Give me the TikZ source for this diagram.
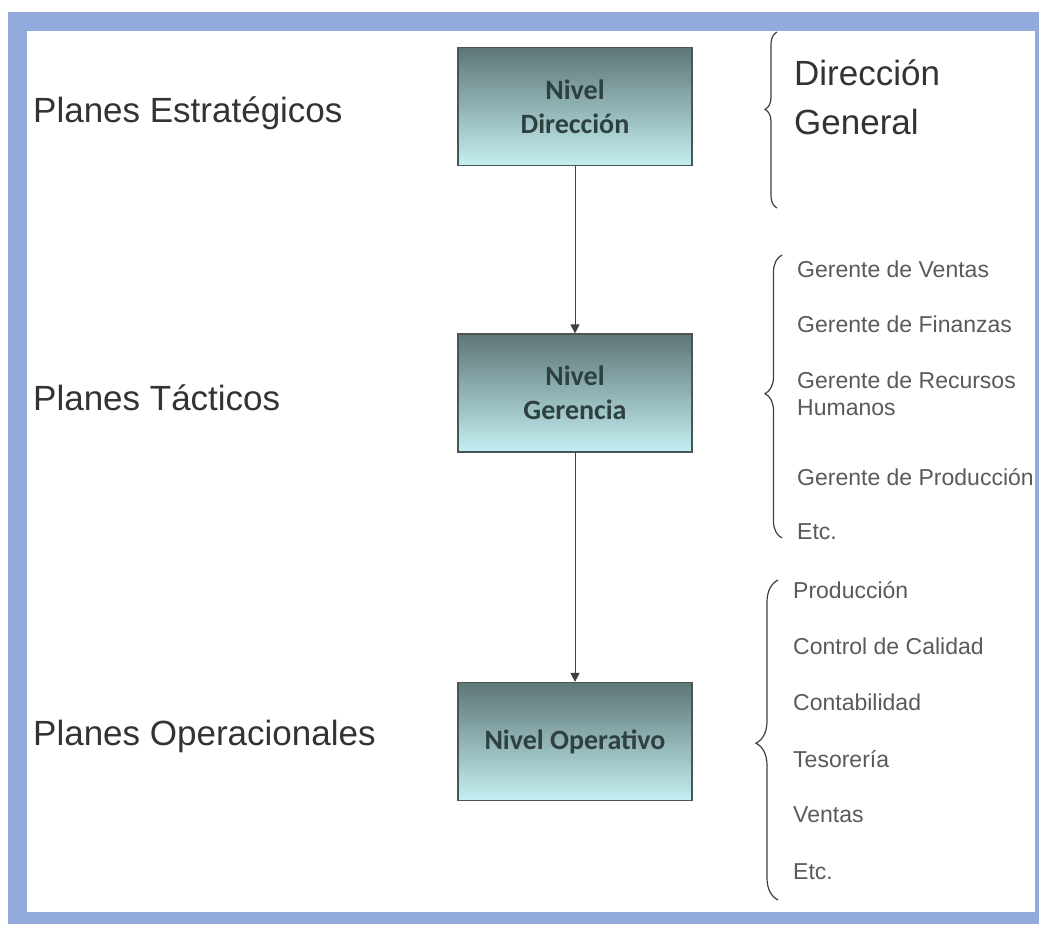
\documentclass[tikz,border=0pt]{standalone}
\usepackage{fontspec}
\setmainfont{Liberation Sans}
\newfontfamily\boxfont{Carlito}
\usetikzlibrary{decorations.pathreplacing,arrows.meta}
\definecolor{framebl}{HTML}{92AADC}
\definecolor{boxtop}{HTML}{5E7676}
\definecolor{boxbot}{HTML}{C4EFF2}
\definecolor{boxline}{HTML}{4A5656}
\definecolor{boxtext}{HTML}{2E4040}
\definecolor{labtext}{HTML}{333333}
\definecolor{itemtext}{HTML}{5A5A5A}
\begin{document}
\begin{tikzpicture}[x=1pt,y=-1pt,
  level/.style={draw=boxline,line width=1.2pt,top color=boxtop,bottom color=boxbot,
    minimum width=234pt,minimum height=118pt,inner sep=0pt,align=center,
    font=\boxfont\bfseries\fontsize{28}{34}\selectfont,text=boxtext},
  plan/.style={anchor=base west,inner sep=0pt,text=labtext,font=\fontsize{35}{40}\selectfont},
  item/.style={anchor=base west,inner sep=0pt,text=itemtext,font=\fontsize{23}{27}\selectfont},
  big/.style={anchor=base west,inner sep=0pt,text=labtext,font=\fontsize{35}{40}\selectfont},
  conn/.style={draw=black!75,line width=1pt,-{Triangle[width=9pt,length=9pt]}},
  brc/.style={draw=black!75,line width=1.2pt,decorate},
]
\useasboundingbox (0,0) rectangle (1039,924);
\fill[framebl] (8,12) rectangle (1039,924);
\fill[white] (27,31) rectangle (1035,912);

% boxes
\node[level] (dir) at (575,106.5) {Nivel\\Dirección};
\node[level] (ger) at (575,393) {Nivel\\Gerencia};
\node[level] (ope) at (575,741.5) {Nivel Operativo};
\draw[conn] (dir.south) -- (ger.north);
\draw[conn] (ger.south) -- (ope.north);

% left labels
\node[plan] (pe) at (33,122) {Planes Estratégicos};
\node[plan] (pt) at (33,410) {Planes Tácticos};
\node[plan] (po) at (33,745) {Planes Operacionales};

% braces
\coordinate (b1t) at (777,32);
\coordinate (b1b) at (777,208);
\coordinate (b2t) at (782,255);
\coordinate (b2b) at (782,538);
\coordinate (b3t) at (778,580);
\coordinate (b3b) at (778,900);
\draw[brc,decoration={brace,amplitude=12pt,aspect=0.56}] (b1b) -- (b1t);
\draw[brc,decoration={brace,amplitude=17pt,aspect=0.51}] (b2b) -- (b2t);
\draw[brc,decoration={brace,amplitude=22pt,aspect=0.49}] (b3b) -- (b3t);

% right texts
\node[big] (dg1) at (794,85) {Dirección};
\node[big] (dg2) at (794,134) {General};

\node[item] (g1) at (797,277) {Gerente de Ventas};
\node[item] (g2) at (797,332) {Gerente de Finanzas};
\node[item] (g3) at (797,388) {Gerente de Recursos};
\node[item] (g4) at (797,415) {Humanos};
\node[item] (g5) at (797,485) {Gerente de Producción};
\node[item] (g6) at (797,539) {Etc.};

\node[item] (o1) at (793,598) {Producción};
\node[item] (o2) at (793,654) {Control de Calidad};
\node[item] (o3) at (793,710) {Contabilidad};
\node[item] (o4) at (793,767) {Tesorería};
\node[item] (o5) at (793,822) {Ventas};
\node[item] (o6) at (793,879) {Etc.};
\end{tikzpicture}
\end{document}
